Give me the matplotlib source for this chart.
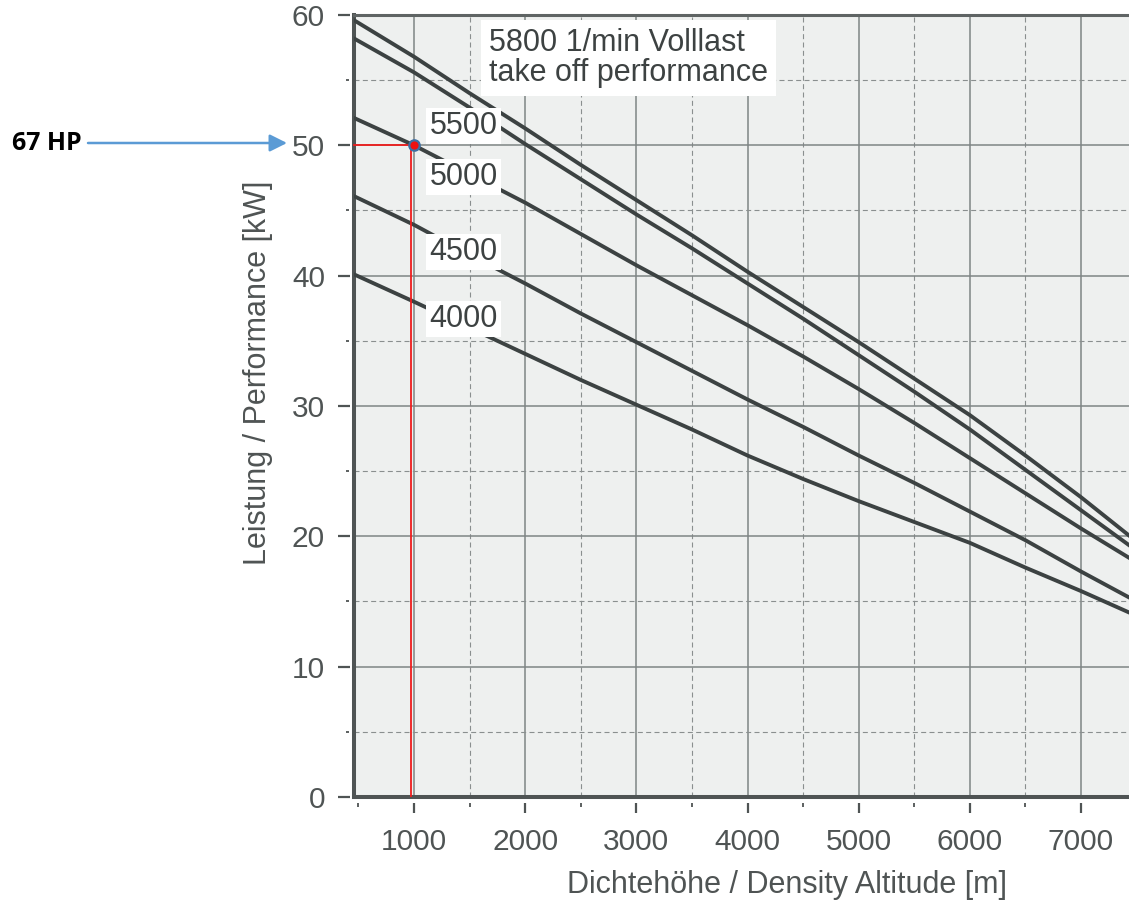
import matplotlib
matplotlib.use("Agg")
import matplotlib.pyplot as plt
from matplotlib.path import Path
from matplotlib.markers import MarkerStyle

# density altitude [m] and power [kW], one list per rpm
altitude = [460, 1000, 1500, 2000, 2500, 3000, 3500, 4000, 4500,
            5000, 5500, 6000, 6500, 7000, 7500]
kw_5800 = [59.6, 56.8, 54.0, 51.3, 48.5, 45.8, 43.1, 40.3, 37.6,
           34.9, 32.1, 29.3, 26.2, 23.0, 19.6]
kw_5500 = [58.2, 55.6, 52.9, 50.1, 47.4, 44.7, 42.1, 39.4, 36.7,
           33.9, 31.1, 28.2, 25.1, 22.0, 18.9]
kw_5000 = [52.1, 50.0, 47.8, 45.6, 43.2, 40.8, 38.5, 36.2, 33.8,
           31.3, 28.7, 26.0, 23.3, 20.6, 18.0]
kw_4500 = [46.1, 43.9, 41.6, 39.4, 37.1, 34.9, 32.7, 30.5, 28.4,
           26.2, 24.1, 21.9, 19.7, 17.3, 15.0]
kw_4000 = [40.1, 38.0, 36.0, 34.0, 32.0, 30.1, 28.2, 26.2, 24.4,
           22.7, 21.1, 19.5, 17.6, 15.8, 13.9]

curve_labels = ["5500", "5000", "4500", "4000"]
curve_label_y = [51.5, 47.6, 41.8, 36.7]
curve_label_x = 1445
title_text = "5800 1/min Volllast\ntake off performance"

mark_alt = 1000      # red dot
mark_kw = 50
drop_alt = 975       # red vertical line
hp_text = "67 HP"

x_major = [1000, 2000, 3000, 4000, 5000, 6000, 7000]
x_minor = [500, 1500, 2500, 3500, 4500, 5500, 6500, 7500]
y_major = [0, 10, 20, 30, 40, 50, 60]
y_minor = [5, 15, 25, 35, 45, 55]

CURVE = "#3c4242"
TXT = "#4f5454"
SPINE = "#4f5454"

plt.rcParams['font.family'] = ['Liberation Sans', 'DejaVu Sans']

fig = plt.figure(figsize=(11.29, 9.01), dpi=100)
ax = fig.add_axes([0.31355, 0.11543, 0.6932, 0.86793])
ax.set_facecolor("#eef0ef")

ax.set_xlim(460, 7500)
ax.set_ylim(0, 60)
ax.set_xticks(x_major)
ax.set_xticks(x_minor, minor=True)
ax.set_yticks(y_major)
ax.set_yticks(y_minor, minor=True)

ax.grid(which="major", color="#7f8585", linewidth=1.1, linestyle="-")
ax.grid(which="minor", color="#8a8f8f", linewidth=0.8, linestyle=(0, (4.5, 3)))
ax.set_axisbelow(True)
# the 500 m grid line hides under the left spine in the original
ax.xaxis.get_minor_ticks()[0].gridline.set_visible(False)

for s in ["left", "bottom"]:
    ax.spines[s].set_linewidth(2.9)
    ax.spines[s].set_color(SPINE)
ax.spines["top"].set_linewidth(2.2)
ax.spines["top"].set_color("#5f6464")
ax.spines["right"].set_visible(False)

ax.tick_params(axis="both", which="both", colors=TXT, length=0, width=1.6)
ax.tick_params(axis="both", which="major", labelsize=21.5)
ax.tick_params(axis="y", which="major", pad=20.9)
ax.tick_params(axis="x", which="major", pad=22.0)


def gap_marker(inner, down):
    # tick that starts a little away from the spine
    if down:
        verts = [(0, -1), (0, -inner)]
    else:
        verts = [(-1, 0), (-inner, 0)]
    return MarkerStyle(Path(verts, [Path.MOVETO, Path.LINETO]))


def set_ticks_style(ticks, inner, size, down, width):
    for t in ticks:
        t.tick1line.set_marker(gap_marker(inner, down))
        t.tick1line.set_markersize(size)
        t.tick1line.set_markeredgewidth(width)
        t.tick1line.set_markeredgecolor(SPINE)


px = 72 / 100
set_ticks_style(ax.yaxis.get_major_ticks(), 0.25, 32 * px, False, 1.6)
set_ticks_style(ax.yaxis.get_minor_ticks(), 0.62, 16 * px, False, 1.3)
set_ticks_style(ax.xaxis.get_major_ticks(), 0.375, 32 * px, True, 1.6)
set_ticks_style(ax.xaxis.get_minor_ticks(), 0.6, 20 * px, True, 1.3)

for kw in [kw_5800, kw_5500, kw_5000, kw_4500, kw_4000]:
    ax.plot(altitude, kw, color=CURVE, linewidth=2.8, solid_capstyle="round",
            solid_joinstyle="round", zorder=3)

for lab, ly in zip(curve_labels, curve_label_y):
    ax.text(curve_label_x, ly, lab, fontsize=22, color="#3d4242",
            ha="center", va="center", zorder=4,
            bbox=dict(boxstyle="square,pad=0.1", fc="white", ec="none"))

ax.text(1675, 56.7, title_text, fontsize=22, color="#3d4242",
        ha="left", va="center", linespacing=1.0, zorder=4,
        bbox=dict(boxstyle="square,pad=0.25", fc="white", ec="none"))

# red reading lines and point
ax.plot([460, mark_alt], [mark_kw, mark_kw], color="#ee1c1c", linewidth=1.3,
        zorder=5, clip_on=False)
ax.plot([drop_alt, drop_alt], [0, mark_kw], color="#ee1c1c", linewidth=1.3,
        zorder=5)
ax.plot([mark_alt], [mark_kw], marker="o", markersize=7.5, color="#ee1111",
        markeredgecolor="#3d6fa3", markeredgewidth=1.6, zorder=6)

ax.set_xlabel("Dichtehöhe / Density Altitude [m]", fontsize=22, color=TXT)
ax.xaxis.set_label_coords(0.5533, -0.0934)
ax.set_ylabel("Leistung / Performance [kW]", fontsize=22, color=TXT)
ax.yaxis.set_label_coords(-0.1227, 0.543)
ax.yaxis.label.set_va("center")

# arrow with the horsepower note, outside the plot
fig.text(12 / 1129, 1 - 143 / 901, hp_text, fontsize=18, fontweight="bold",
         family=["Open Sans", "DejaVu Sans"], color="black",
         ha="left", va="center")
ax.annotate("", xy=(287 / 1129, 1 - 143 / 901), xycoords="figure fraction",
            xytext=(88 / 1129, 1 - 143 / 901), textcoords="figure fraction",
            arrowprops=dict(arrowstyle="-|>", color="#5b9bd5", lw=1.8,
                            mutation_scale=26, shrinkA=0, shrinkB=0))

fig.savefig("out.png", dpi=100)
